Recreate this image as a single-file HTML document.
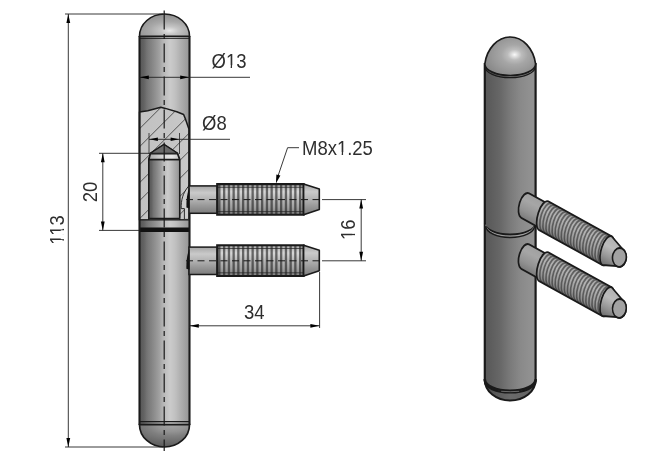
<!DOCTYPE html>
<html><head><meta charset="utf-8"><title>Hinge drawing</title>
<style>html,body{margin:0;padding:0;background:#fff;}svg{display:block;filter:grayscale(1)}</style></head>
<body><svg width="660" height="460" viewBox="0 0 660 460">
<rect width="660" height="460" fill="#fff"/>
<defs>
<linearGradient id="gb" x1="0" x2="1" y1="0" y2="0">
<stop offset="0" stop-color="#525252"/><stop offset="0.03" stop-color="#5a5a5a"/><stop offset="0.09" stop-color="#636364"/><stop offset="0.15" stop-color="#747476"/><stop offset="0.27" stop-color="#89898b"/><stop offset="0.39" stop-color="#9f9fa2"/><stop offset="0.45" stop-color="#b0b0b4"/><stop offset="0.53" stop-color="#c0c0c4"/><stop offset="0.61" stop-color="#cbcbcf"/><stop offset="0.71" stop-color="#c1c1c5"/><stop offset="0.83" stop-color="#aeaeb3"/><stop offset="0.95" stop-color="#9c9ca1"/><stop offset="1" stop-color="#96969a"/></linearGradient>
<linearGradient id="gs" x1="0" x2="0" y1="0" y2="1">
<stop offset="0" stop-color="#a6a6aa"/><stop offset="0.25" stop-color="#cacace"/><stop offset="0.5" stop-color="#b2b2b6"/><stop offset="0.75" stop-color="#96969a"/><stop offset="1" stop-color="#7c7c80"/></linearGradient>
<linearGradient id="gt" x1="0" x2="0" y1="0" y2="1">
<stop offset="0" stop-color="#a8a8a8"/><stop offset="0.25" stop-color="#d6d6d6"/><stop offset="0.5" stop-color="#b8b8b8"/><stop offset="0.75" stop-color="#a0a0a0"/><stop offset="1" stop-color="#808080"/></linearGradient>
<radialGradient id="gd" cx="0.6" cy="0.75" r="0.9">
<stop offset="0" stop-color="#e8e8ec"/><stop offset="0.2" stop-color="#c4c4c8"/><stop offset="0.45" stop-color="#a8a8ac"/><stop offset="0.7" stop-color="#96969a"/><stop offset="1" stop-color="#8a8a8e"/></radialGradient>
<linearGradient id="gh" x1="0" x2="1" y1="0" y2="0">
<stop offset="0" stop-color="#c2c2c5"/><stop offset="0.6" stop-color="#c5c5c8"/><stop offset="1" stop-color="#c8c8cb"/></linearGradient>
<linearGradient id="gp" x1="0" x2="1" y1="0" y2="0">
<stop offset="0" stop-color="#8a8a8a"/><stop offset="0.3" stop-color="#b0b0b0"/><stop offset="0.7" stop-color="#c8c8c8"/><stop offset="1" stop-color="#b8b8b8"/></linearGradient>
<radialGradient id="gbd" cx="0.65" cy="0" r="1">
<stop offset="0" stop-color="#a6a6aa"/><stop offset="0.3" stop-color="#949498"/><stop offset="0.5" stop-color="#808084"/><stop offset="0.8" stop-color="#6a6a6c"/><stop offset="1" stop-color="#5c5c5e"/></radialGradient>
<linearGradient id="gch" x1="0" x2="1" y1="0" y2="0">
<stop offset="0" stop-color="#a8a8a8"/><stop offset="0.5" stop-color="#dcdcdc"/><stop offset="0.75" stop-color="#e6e6e6"/><stop offset="1" stop-color="#c4c4c4"/></linearGradient>
</defs>
<rect x="139.5" y="37" width="50.0" height="387" fill="url(#gb)"/>
<path d="M139.5 36.2 A25.0 22.2 0 0 1 189.5 36.2 Z" fill="url(#gd)" stroke="#1a1a1a" stroke-width="1.6"/>
<line x1="139.5" y1="38.3" x2="189.5" y2="38.3" stroke="#1a1a1a" stroke-width="1"/>
<path d="M139.5 424.7 A25.0 22.3 0 0 0 189.5 424.7 Z" fill="url(#gbd)" stroke="#1a1a1a" stroke-width="1.7"/>
<line x1="139.5" y1="421.6" x2="189.5" y2="421.6" stroke="#1a1a1a" stroke-width="1.3"/>
<clipPath id="cutclip"><path d="M139.5 112 L147.8 110.7 L160.8 107.2 L165.4 108.4 L176.8 111.7 L183.6 114.5 L185.6 119.4 L189.0 129.3 L189.0 220 L139.5 220 Z"/></clipPath>
<path d="M139.5 112 L147.8 110.7 L160.8 107.2 L165.4 108.4 L176.8 111.7 L183.6 114.5 L185.6 119.4 L189.0 129.3 L189.0 220 L139.5 220 Z" fill="url(#gh)"/>
<g clip-path="url(#cutclip)" stroke="#4a4a4a" stroke-width="0.95">
<line x1="132.3" y1="100" x2="2.3" y2="230"/>
<line x1="150.3" y1="100" x2="20.3" y2="230"/>
<line x1="168.3" y1="100" x2="38.3" y2="230"/>
<line x1="186.3" y1="100" x2="56.3" y2="230"/>
<line x1="204.3" y1="100" x2="74.3" y2="230"/>
<line x1="222.3" y1="100" x2="92.3" y2="230"/>
<line x1="240.3" y1="100" x2="110.3" y2="230"/>
<line x1="258.3" y1="100" x2="128.3" y2="230"/>
<line x1="276.3" y1="100" x2="146.3" y2="230"/>
<line x1="294.3" y1="100" x2="164.3" y2="230"/>
<line x1="312.3" y1="100" x2="182.3" y2="230"/>
<line x1="330.3" y1="100" x2="200.3" y2="230"/>
</g>
<path d="M139.5 112 L147.8 110.7 L160.8 107.2 L165.4 108.4 L176.8 111.7 L183.6 114.5 L185.6 119.4 L189.0 129.3 L189.0 220 L139.5 220 Z" fill="none" stroke="#1a1a1a" stroke-width="1.5" stroke-linejoin="round"/>
<path d="M148.7 220 L148.7 159 L150.3 153.2 L164.0 144.3 L177.6 153.2 L179.8 159 L179.8 220 Z" fill="#b4b4b4" stroke="#1a1a1a" stroke-width="1.3" stroke-linejoin="round"/>
<path d="M150.3 153.3 L164.0 144.4 L177.6 153.3 Z" fill="#6a6a6a" stroke="#1a1a1a" stroke-width="1.2" stroke-linejoin="round"/>
<rect x="148.9" y="159.5" width="30.7" height="58.9" rx="1" fill="url(#gb)" stroke="#1a1a1a" stroke-width="1.3"/>
<path d="M150.5 153.8 L177.4 153.8 L179.5 159.5 L149 159.5 Z" fill="url(#gch)" stroke="#1a1a1a" stroke-width="1.3" stroke-linejoin="round"/>
<rect x="139.5" y="220" width="50.0" height="8" fill="url(#gb)"/>
<line x1="139.5" y1="220" x2="189.5" y2="220" stroke="#1a1a1a" stroke-width="1"/>
<rect x="139.5" y="227.5" width="50.0" height="4.5" fill="#111"/>
<line x1="139.5" y1="36" x2="139.5" y2="425" stroke="#1a1a1a" stroke-width="2.1"/>
<line x1="189.5" y1="36" x2="189.5" y2="425" stroke="#1a1a1a" stroke-width="2.1"/>
<rect x="189" y="185.9" width="28.5" height="27.4" fill="url(#gs)" stroke="#1a1a1a" stroke-width="1.5"/>
<path d="M217.2 184.1 L303.6 184.1 L303.6 214.75 L217.2 214.75 Z" fill="url(#gt)"/>
<rect x="218.2" y="184.1" width="2.3" height="30.650000000000006" fill="#1c1c1c" opacity="0.6"/>
<rect x="223.0" y="184.1" width="2.3" height="30.650000000000006" fill="#1c1c1c" opacity="0.6"/>
<rect x="227.8" y="184.1" width="2.3" height="30.650000000000006" fill="#1c1c1c" opacity="0.6"/>
<rect x="232.5" y="184.1" width="2.3" height="30.650000000000006" fill="#1c1c1c" opacity="0.6"/>
<rect x="237.2" y="184.1" width="2.3" height="30.650000000000006" fill="#1c1c1c" opacity="0.6"/>
<rect x="242.0" y="184.1" width="2.3" height="30.650000000000006" fill="#1c1c1c" opacity="0.6"/>
<rect x="246.8" y="184.1" width="2.3" height="30.650000000000006" fill="#1c1c1c" opacity="0.6"/>
<rect x="251.5" y="184.1" width="2.3" height="30.650000000000006" fill="#1c1c1c" opacity="0.6"/>
<rect x="256.2" y="184.1" width="2.3" height="30.650000000000006" fill="#1c1c1c" opacity="0.6"/>
<rect x="261.0" y="184.1" width="2.3" height="30.650000000000006" fill="#1c1c1c" opacity="0.6"/>
<rect x="265.8" y="184.1" width="2.3" height="30.650000000000006" fill="#1c1c1c" opacity="0.6"/>
<rect x="270.5" y="184.1" width="2.3" height="30.650000000000006" fill="#1c1c1c" opacity="0.6"/>
<rect x="275.2" y="184.1" width="2.3" height="30.650000000000006" fill="#1c1c1c" opacity="0.6"/>
<rect x="280.0" y="184.1" width="2.3" height="30.650000000000006" fill="#1c1c1c" opacity="0.6"/>
<rect x="284.8" y="184.1" width="2.3" height="30.650000000000006" fill="#1c1c1c" opacity="0.6"/>
<rect x="289.5" y="184.1" width="2.3" height="30.650000000000006" fill="#1c1c1c" opacity="0.6"/>
<rect x="294.2" y="184.1" width="2.3" height="30.650000000000006" fill="#1c1c1c" opacity="0.6"/>
<rect x="299.0" y="184.1" width="2.3" height="30.650000000000006" fill="#1c1c1c" opacity="0.6"/>
<line x1="217.2" y1="187.29999999999998" x2="303.6" y2="187.29999999999998" stroke="#222" stroke-width="1" opacity="0.7"/>
<line x1="217.2" y1="211.6" x2="303.6" y2="211.6" stroke="#222" stroke-width="1" opacity="0.7"/>
<path d="M217.2 184.1 L303.6 184.1 L303.6 214.75 L217.2 214.75 Z" fill="none" stroke="#1a1a1a" stroke-width="2.1"/>
<path d="M303.6 184.1 L319.3 189.1 L319.3 209.6 L303.6 214.75 Z" fill="url(#gs)" stroke="#1a1a1a" stroke-width="1.6" stroke-linejoin="round"/>
<path d="M188.6 186.1 C184.5 191.1 181.6 196.6 181.2 205.6 L181.2 208.6 L184.4 208.6 L184.4 219.4 L188.6 219.4 Z" fill="#cdcdcd" stroke="#1a1a1a" stroke-width="0.9" stroke-linejoin="round"/>
<path d="M189.5 187.6 C187.2 192.6 186.2 199.6 186.4 207.6 L189.5 208.6 Z" fill="#111"/>
<line x1="186" y1="199.6" x2="322" y2="199.6" stroke="#1a1a1a" stroke-width="1" stroke-dasharray="7 4.5"/>
<rect x="189" y="247.10000000000002" width="28.5" height="27.4" fill="url(#gs)" stroke="#1a1a1a" stroke-width="1.5"/>
<path d="M217.2 245.3 L303.6 245.3 L303.6 275.95 L217.2 275.95 Z" fill="url(#gt)"/>
<rect x="218.2" y="245.3" width="2.3" height="30.649999999999977" fill="#1c1c1c" opacity="0.6"/>
<rect x="223.0" y="245.3" width="2.3" height="30.649999999999977" fill="#1c1c1c" opacity="0.6"/>
<rect x="227.8" y="245.3" width="2.3" height="30.649999999999977" fill="#1c1c1c" opacity="0.6"/>
<rect x="232.5" y="245.3" width="2.3" height="30.649999999999977" fill="#1c1c1c" opacity="0.6"/>
<rect x="237.2" y="245.3" width="2.3" height="30.649999999999977" fill="#1c1c1c" opacity="0.6"/>
<rect x="242.0" y="245.3" width="2.3" height="30.649999999999977" fill="#1c1c1c" opacity="0.6"/>
<rect x="246.8" y="245.3" width="2.3" height="30.649999999999977" fill="#1c1c1c" opacity="0.6"/>
<rect x="251.5" y="245.3" width="2.3" height="30.649999999999977" fill="#1c1c1c" opacity="0.6"/>
<rect x="256.2" y="245.3" width="2.3" height="30.649999999999977" fill="#1c1c1c" opacity="0.6"/>
<rect x="261.0" y="245.3" width="2.3" height="30.649999999999977" fill="#1c1c1c" opacity="0.6"/>
<rect x="265.8" y="245.3" width="2.3" height="30.649999999999977" fill="#1c1c1c" opacity="0.6"/>
<rect x="270.5" y="245.3" width="2.3" height="30.649999999999977" fill="#1c1c1c" opacity="0.6"/>
<rect x="275.2" y="245.3" width="2.3" height="30.649999999999977" fill="#1c1c1c" opacity="0.6"/>
<rect x="280.0" y="245.3" width="2.3" height="30.649999999999977" fill="#1c1c1c" opacity="0.6"/>
<rect x="284.8" y="245.3" width="2.3" height="30.649999999999977" fill="#1c1c1c" opacity="0.6"/>
<rect x="289.5" y="245.3" width="2.3" height="30.649999999999977" fill="#1c1c1c" opacity="0.6"/>
<rect x="294.2" y="245.3" width="2.3" height="30.649999999999977" fill="#1c1c1c" opacity="0.6"/>
<rect x="299.0" y="245.3" width="2.3" height="30.649999999999977" fill="#1c1c1c" opacity="0.6"/>
<line x1="217.2" y1="248.5" x2="303.6" y2="248.5" stroke="#222" stroke-width="1" opacity="0.7"/>
<line x1="217.2" y1="272.8" x2="303.6" y2="272.8" stroke="#222" stroke-width="1" opacity="0.7"/>
<path d="M217.2 245.3 L303.6 245.3 L303.6 275.95 L217.2 275.95 Z" fill="none" stroke="#1a1a1a" stroke-width="2.1"/>
<path d="M303.6 245.3 L319.3 250.3 L319.3 270.8 L303.6 275.95 Z" fill="url(#gs)" stroke="#1a1a1a" stroke-width="1.6" stroke-linejoin="round"/>
<path d="M189.5 248.8 C187.2 253.8 186.2 260.8 186.4 268.8 L189.5 269.8 Z" fill="#111"/>
<line x1="186" y1="260.8" x2="322" y2="260.8" stroke="#1a1a1a" stroke-width="1" stroke-dasharray="7 4.5"/>
<line x1="164.2" y1="10.4" x2="164.2" y2="451" stroke="#1a1a1a" stroke-width="1.2" stroke-dasharray="19 4.5 5 4.5" stroke-dashoffset="0"/>
<line x1="65" y1="14" x2="163" y2="14" stroke="#222" stroke-width="0.9"/>
<line x1="65" y1="447" x2="163" y2="447" stroke="#222" stroke-width="0.9"/>
<line x1="68.3" y1="14" x2="68.3" y2="447" stroke="#222" stroke-width="0.9"/>
<path d="M68.3 14.0 L70.2 23.0 L66.4 23.0 Z" fill="#000"/>
<path d="M68.3 447.0 L66.4 438.0 L70.2 438.0 Z" fill="#000"/>
<g transform="translate(63.5 229.9) rotate(-90) scale(0.915 1)">
<text transform="scale(0.25)" font-family="Liberation Sans, sans-serif" font-size="80.8" fill="#2e2e2e" text-anchor="middle">113</text>
<rect x="-16.46" y="-2.76" width="4.83" height="3.95" fill="#fff"/>
<rect x="-10.13" y="-2.76" width="4.63" height="3.95" fill="#fff"/>
<rect x="-5.22" y="-2.76" width="4.83" height="3.95" fill="#fff"/>
<rect x="1.10" y="-2.76" width="4.63" height="3.95" fill="#fff"/>
</g>
<line x1="99" y1="153.3" x2="150" y2="153.3" stroke="#222" stroke-width="0.9"/>
<line x1="99" y1="230.4" x2="139" y2="230.4" stroke="#222" stroke-width="0.9"/>
<line x1="102.8" y1="153.3" x2="102.8" y2="230.4" stroke="#222" stroke-width="0.9"/>
<path d="M102.8 153.3 L104.7 162.3 L100.9 162.3 Z" fill="#000"/>
<path d="M102.8 230.4 L100.9 221.4 L104.7 221.4 Z" fill="#000"/>
<g transform="translate(97.3 192) rotate(-90) scale(0.915 1)">
<text transform="scale(0.25)" font-family="Liberation Sans, sans-serif" font-size="80.8" fill="#2e2e2e" text-anchor="middle">20</text>
</g>
<line x1="139.5" y1="77.3" x2="250" y2="77.3" stroke="#222" stroke-width="0.9"/>
<path d="M139.8 77.3 L148.8 75.4 L148.8 79.2 Z" fill="#000"/>
<path d="M189.2 77.3 L180.2 79.2 L180.2 75.4 Z" fill="#000"/>
<g transform="translate(211.5 68) scale(0.915 1)">
<text transform="scale(0.25)" font-family="Liberation Sans, sans-serif" font-size="80.8" fill="#2e2e2e" text-anchor="start">Ø13</text>
<rect x="16.11" y="-2.76" width="4.83" height="3.95" fill="#fff"/>
<rect x="22.43" y="-2.76" width="4.63" height="3.95" fill="#fff"/>
</g>
<line x1="149" y1="139.3" x2="230" y2="139.3" stroke="#222" stroke-width="0.9"/>
<path d="M149.4 139.3 L157.9 137.6 L157.9 141.0 Z" fill="#000"/>
<path d="M179.1 139.3 L170.6 141.0 L170.6 137.6 Z" fill="#000"/>
<line x1="149" y1="133" x2="149" y2="154" stroke="#222" stroke-width="0.8"/>
<line x1="179.5" y1="133" x2="179.5" y2="154" stroke="#222" stroke-width="0.8"/>
<g transform="translate(202 129.5) scale(0.915 1)">
<text transform="scale(0.25)" font-family="Liberation Sans, sans-serif" font-size="80.8" fill="#2e2e2e" text-anchor="start">Ø8</text>
</g>
<line x1="287.6" y1="147.7" x2="299" y2="147.7" stroke="#222" stroke-width="0.9"/>
<line x1="287.6" y1="147.7" x2="278" y2="176" stroke="#222" stroke-width="0.9"/>
<path d="M275.9 183.6 L276.4 174.4 L280.4 175.5 Z" fill="#000"/>
<g transform="translate(302 155) scale(0.915 1)">
<text transform="scale(0.25)" font-family="Liberation Sans, sans-serif" font-size="80.8" fill="#2e2e2e" text-anchor="start">M8x1.25</text>
<rect x="38.56" y="-2.76" width="4.83" height="3.95" fill="#fff"/>
<rect x="44.88" y="-2.76" width="4.63" height="3.95" fill="#fff"/>
</g>
<line x1="322" y1="199.6" x2="366" y2="199.6" stroke="#222" stroke-width="0.9"/>
<line x1="322" y1="260.8" x2="366" y2="260.8" stroke="#222" stroke-width="0.9"/>
<line x1="361.2" y1="199.6" x2="361.2" y2="260.8" stroke="#222" stroke-width="0.9"/>
<path d="M361.2 199.6 L363.1 208.6 L359.3 208.6 Z" fill="#000"/>
<path d="M361.2 260.8 L359.3 251.8 L363.1 251.8 Z" fill="#000"/>
<g transform="translate(355.2 229.7) rotate(-90) scale(0.915 1)">
<text transform="scale(0.25)" font-family="Liberation Sans, sans-serif" font-size="80.8" fill="#2e2e2e" text-anchor="middle">16</text>
<rect x="-10.84" y="-2.76" width="4.83" height="3.95" fill="#fff"/>
<rect x="-4.52" y="-2.76" width="4.63" height="3.95" fill="#fff"/>
</g>
<line x1="189.6" y1="274" x2="189.6" y2="328" stroke="#222" stroke-width="0.9"/>
<line x1="319.6" y1="272" x2="319.6" y2="328" stroke="#222" stroke-width="0.9"/>
<line x1="189.6" y1="325.8" x2="319.6" y2="325.8" stroke="#222" stroke-width="0.9"/>
<path d="M189.8 325.8 L198.8 323.9 L198.8 327.7 Z" fill="#000"/>
<path d="M319.4 325.8 L310.4 327.7 L310.4 323.9 Z" fill="#000"/>
<g transform="translate(254.3 319.2) scale(0.915 1)">
<text transform="scale(0.25)" font-family="Liberation Sans, sans-serif" font-size="80.8" fill="#2e2e2e" text-anchor="middle">34</text>
</g>
<defs>
<linearGradient id="g3" x1="0" x2="1" y1="0" y2="0">
<stop offset="0" stop-color="#585858"/><stop offset="0.1" stop-color="#5c5c5c"/><stop offset="0.3" stop-color="#676768"/><stop offset="0.5" stop-color="#7a7a7b"/><stop offset="0.7" stop-color="#89898b"/><stop offset="0.9" stop-color="#919195"/><stop offset="1" stop-color="#939397"/></linearGradient>
<radialGradient id="g3d" cx="0.587" cy="0.46" r="0.62">
<stop offset="0" stop-color="#fafafe"/><stop offset="0.08" stop-color="#e2e2e6"/><stop offset="0.22" stop-color="#bcbcc0"/><stop offset="0.42" stop-color="#a6a6aa"/><stop offset="0.7" stop-color="#98989c"/><stop offset="1" stop-color="#88888c"/></radialGradient>
<linearGradient id="g3b" x1="0" x2="1" y1="0" y2="0">
<stop offset="0" stop-color="#4c4c4c"/><stop offset="0.5" stop-color="#6a6a6a"/><stop offset="1" stop-color="#626262"/></linearGradient>
<linearGradient id="g3s" x1="0" x2="0" y1="0" y2="1">
<stop offset="0" stop-color="#a0a0a4"/><stop offset="0.3" stop-color="#a6a6aa"/><stop offset="0.7" stop-color="#929296"/><stop offset="1" stop-color="#7a7a7e"/></linearGradient>
<linearGradient id="g3c" x1="0" x2="0" y1="0" y2="1">
<stop offset="0" stop-color="#b0b0b0"/><stop offset="0.35" stop-color="#bcbcbc"/><stop offset="0.7" stop-color="#949494"/><stop offset="1" stop-color="#6c6c6c"/></linearGradient>
<linearGradient id="g3t" x1="0" x2="0" y1="0" y2="1">
<stop offset="0" stop-color="#a4a4a8"/><stop offset="0.3" stop-color="#b4b4b8"/><stop offset="0.7" stop-color="#9c9ca0"/><stop offset="1" stop-color="#7c7c80"/></linearGradient>
</defs>
<path d="M484.8 380 A25.400000000000006 20.6 0 0 0 535.6 380 Z" fill="url(#g3b)" stroke="#1a1a1a" stroke-width="2"/>
<path d="M484.8 64 L484.8 381 A25.400000000000006 11.5 0 0 0 535.6 381 L535.6 64 Z" fill="url(#g3)" stroke="#1a1a1a" stroke-width="2.2"/>
<path d="M484.8 379.3 A25.400000000000006 11.5 0 0 0 535.6 379.3" fill="none" stroke="#1a1a1a" stroke-width="2.6"/>
<path d="M501.20000000000005 391.3 Q510.20000000000005 392.1 519.2 391.3" fill="none" stroke="#8a8a8a" stroke-width="0.7"/>
<path d="M484.8 223.0 A25.400000000000006 11.5 0 0 0 535.6 223.0" fill="none" stroke="#1a1a1a" stroke-width="1.8"/>
<path d="M485.8 224.7 A24.400000000000006 11.5 0 0 0 534.6 224.7" fill="none" stroke="#a8a8a8" stroke-width="0.8"/>
<path d="M485.8 226 A24.400000000000006 11.5 0 0 0 534.6 226" fill="none" stroke="#1a1a1a" stroke-width="1.4"/>
<path d="M484.8 64 A25.780000000000005 32.6 0 0 1 535.6 64 A25.400000000000006 11.5 0 0 1 484.8 64 Z" fill="url(#g3d)" stroke="#1a1a1a" stroke-width="1.7"/>
<path d="M484.8 66.2 A25.400000000000006 11.5 0 0 0 535.6 66.2" fill="none" stroke="#1a1a1a" stroke-width="1.2"/>
<g transform="translate(523.0 204.4) rotate(28.8) skewX(11)" stroke-linejoin="round">
<path d="M2.5 -12.6 L23.7 -12.6 L23.7 12.6 L2.5 12.6 A6.292 12.6 0 0 1 2.5 -12.6 Z" fill="url(#g3s)" stroke="#1a1a1a" stroke-width="1.8"/>
<path d="M23.7 -14.8 L96 -14.8 A6.216 14.8 0 0 1 96 14.8 L23.7 14.8 A6.216 14.8 0 0 1 23.7 -14.8 Z" fill="url(#g3t)"/>
<path d="M27.2 14.200000000000001 A6.216 14.200000000000001 0 0 1 27.2 -14.200000000000001" fill="none" stroke="#2a2a2c" stroke-width="1.7" opacity="0.58"/>
<path d="M30.7 14.200000000000001 A6.216 14.200000000000001 0 0 1 30.7 -14.200000000000001" fill="none" stroke="#2a2a2c" stroke-width="1.7" opacity="0.58"/>
<path d="M34.2 14.200000000000001 A6.216 14.200000000000001 0 0 1 34.2 -14.200000000000001" fill="none" stroke="#2a2a2c" stroke-width="1.7" opacity="0.58"/>
<path d="M37.7 14.200000000000001 A6.216 14.200000000000001 0 0 1 37.7 -14.200000000000001" fill="none" stroke="#2a2a2c" stroke-width="1.7" opacity="0.58"/>
<path d="M41.2 14.200000000000001 A6.216 14.200000000000001 0 0 1 41.2 -14.200000000000001" fill="none" stroke="#2a2a2c" stroke-width="1.7" opacity="0.58"/>
<path d="M44.7 14.200000000000001 A6.216 14.200000000000001 0 0 1 44.7 -14.200000000000001" fill="none" stroke="#2a2a2c" stroke-width="1.7" opacity="0.58"/>
<path d="M48.2 14.200000000000001 A6.216 14.200000000000001 0 0 1 48.2 -14.200000000000001" fill="none" stroke="#2a2a2c" stroke-width="1.7" opacity="0.58"/>
<path d="M51.7 14.200000000000001 A6.216 14.200000000000001 0 0 1 51.7 -14.200000000000001" fill="none" stroke="#2a2a2c" stroke-width="1.7" opacity="0.58"/>
<path d="M55.2 14.200000000000001 A6.216 14.200000000000001 0 0 1 55.2 -14.200000000000001" fill="none" stroke="#2a2a2c" stroke-width="1.7" opacity="0.58"/>
<path d="M58.7 14.200000000000001 A6.216 14.200000000000001 0 0 1 58.7 -14.200000000000001" fill="none" stroke="#2a2a2c" stroke-width="1.7" opacity="0.58"/>
<path d="M62.2 14.200000000000001 A6.216 14.200000000000001 0 0 1 62.2 -14.200000000000001" fill="none" stroke="#2a2a2c" stroke-width="1.7" opacity="0.58"/>
<path d="M65.7 14.200000000000001 A6.216 14.200000000000001 0 0 1 65.7 -14.200000000000001" fill="none" stroke="#2a2a2c" stroke-width="1.7" opacity="0.58"/>
<path d="M69.2 14.200000000000001 A6.216 14.200000000000001 0 0 1 69.2 -14.200000000000001" fill="none" stroke="#2a2a2c" stroke-width="1.7" opacity="0.58"/>
<path d="M72.7 14.200000000000001 A6.216 14.200000000000001 0 0 1 72.7 -14.200000000000001" fill="none" stroke="#2a2a2c" stroke-width="1.7" opacity="0.58"/>
<path d="M76.2 14.200000000000001 A6.216 14.200000000000001 0 0 1 76.2 -14.200000000000001" fill="none" stroke="#2a2a2c" stroke-width="1.7" opacity="0.58"/>
<path d="M79.7 14.200000000000001 A6.216 14.200000000000001 0 0 1 79.7 -14.200000000000001" fill="none" stroke="#2a2a2c" stroke-width="1.7" opacity="0.58"/>
<path d="M83.2 14.200000000000001 A6.216 14.200000000000001 0 0 1 83.2 -14.200000000000001" fill="none" stroke="#2a2a2c" stroke-width="1.7" opacity="0.58"/>
<path d="M86.7 14.200000000000001 A6.216 14.200000000000001 0 0 1 86.7 -14.200000000000001" fill="none" stroke="#2a2a2c" stroke-width="1.7" opacity="0.58"/>
<path d="M90.2 14.200000000000001 A6.216 14.200000000000001 0 0 1 90.2 -14.200000000000001" fill="none" stroke="#2a2a2c" stroke-width="1.7" opacity="0.58"/>
<path d="M93.7 14.200000000000001 A6.216 14.200000000000001 0 0 1 93.7 -14.200000000000001" fill="none" stroke="#2a2a2c" stroke-width="1.7" opacity="0.58"/>
<path d="M23.7 -14.8 L96 -14.8 A6.216 14.8 0 0 1 96 14.8 L23.7 14.8 A6.216 14.8 0 0 1 23.7 -14.8 Z" fill="none" stroke="#1a1a1a" stroke-width="1.8"/>
<path d="M96 -14.8 L110 -9.0 A7.2 9.0 0 0 1 110 9.0 L96 14.8 A6.216 14.8 0 0 1 96 -14.8 Z" fill="url(#g3c)" stroke="#1a1a1a" stroke-width="1.8"/>
<ellipse cx="110" cy="0" rx="7.2" ry="9.0" fill="#a2a2a2" stroke="#1a1a1a" stroke-width="1.7"/>
</g>
<g transform="translate(523.0 255.4) rotate(28.8) skewX(11)" stroke-linejoin="round">
<path d="M2.5 -12.6 L23.7 -12.6 L23.7 12.6 L2.5 12.6 A6.292 12.6 0 0 1 2.5 -12.6 Z" fill="url(#g3s)" stroke="#1a1a1a" stroke-width="1.8"/>
<path d="M23.7 -14.8 L96 -14.8 A6.216 14.8 0 0 1 96 14.8 L23.7 14.8 A6.216 14.8 0 0 1 23.7 -14.8 Z" fill="url(#g3t)"/>
<path d="M27.2 14.200000000000001 A6.216 14.200000000000001 0 0 1 27.2 -14.200000000000001" fill="none" stroke="#2a2a2c" stroke-width="1.7" opacity="0.58"/>
<path d="M30.7 14.200000000000001 A6.216 14.200000000000001 0 0 1 30.7 -14.200000000000001" fill="none" stroke="#2a2a2c" stroke-width="1.7" opacity="0.58"/>
<path d="M34.2 14.200000000000001 A6.216 14.200000000000001 0 0 1 34.2 -14.200000000000001" fill="none" stroke="#2a2a2c" stroke-width="1.7" opacity="0.58"/>
<path d="M37.7 14.200000000000001 A6.216 14.200000000000001 0 0 1 37.7 -14.200000000000001" fill="none" stroke="#2a2a2c" stroke-width="1.7" opacity="0.58"/>
<path d="M41.2 14.200000000000001 A6.216 14.200000000000001 0 0 1 41.2 -14.200000000000001" fill="none" stroke="#2a2a2c" stroke-width="1.7" opacity="0.58"/>
<path d="M44.7 14.200000000000001 A6.216 14.200000000000001 0 0 1 44.7 -14.200000000000001" fill="none" stroke="#2a2a2c" stroke-width="1.7" opacity="0.58"/>
<path d="M48.2 14.200000000000001 A6.216 14.200000000000001 0 0 1 48.2 -14.200000000000001" fill="none" stroke="#2a2a2c" stroke-width="1.7" opacity="0.58"/>
<path d="M51.7 14.200000000000001 A6.216 14.200000000000001 0 0 1 51.7 -14.200000000000001" fill="none" stroke="#2a2a2c" stroke-width="1.7" opacity="0.58"/>
<path d="M55.2 14.200000000000001 A6.216 14.200000000000001 0 0 1 55.2 -14.200000000000001" fill="none" stroke="#2a2a2c" stroke-width="1.7" opacity="0.58"/>
<path d="M58.7 14.200000000000001 A6.216 14.200000000000001 0 0 1 58.7 -14.200000000000001" fill="none" stroke="#2a2a2c" stroke-width="1.7" opacity="0.58"/>
<path d="M62.2 14.200000000000001 A6.216 14.200000000000001 0 0 1 62.2 -14.200000000000001" fill="none" stroke="#2a2a2c" stroke-width="1.7" opacity="0.58"/>
<path d="M65.7 14.200000000000001 A6.216 14.200000000000001 0 0 1 65.7 -14.200000000000001" fill="none" stroke="#2a2a2c" stroke-width="1.7" opacity="0.58"/>
<path d="M69.2 14.200000000000001 A6.216 14.200000000000001 0 0 1 69.2 -14.200000000000001" fill="none" stroke="#2a2a2c" stroke-width="1.7" opacity="0.58"/>
<path d="M72.7 14.200000000000001 A6.216 14.200000000000001 0 0 1 72.7 -14.200000000000001" fill="none" stroke="#2a2a2c" stroke-width="1.7" opacity="0.58"/>
<path d="M76.2 14.200000000000001 A6.216 14.200000000000001 0 0 1 76.2 -14.200000000000001" fill="none" stroke="#2a2a2c" stroke-width="1.7" opacity="0.58"/>
<path d="M79.7 14.200000000000001 A6.216 14.200000000000001 0 0 1 79.7 -14.200000000000001" fill="none" stroke="#2a2a2c" stroke-width="1.7" opacity="0.58"/>
<path d="M83.2 14.200000000000001 A6.216 14.200000000000001 0 0 1 83.2 -14.200000000000001" fill="none" stroke="#2a2a2c" stroke-width="1.7" opacity="0.58"/>
<path d="M86.7 14.200000000000001 A6.216 14.200000000000001 0 0 1 86.7 -14.200000000000001" fill="none" stroke="#2a2a2c" stroke-width="1.7" opacity="0.58"/>
<path d="M90.2 14.200000000000001 A6.216 14.200000000000001 0 0 1 90.2 -14.200000000000001" fill="none" stroke="#2a2a2c" stroke-width="1.7" opacity="0.58"/>
<path d="M93.7 14.200000000000001 A6.216 14.200000000000001 0 0 1 93.7 -14.200000000000001" fill="none" stroke="#2a2a2c" stroke-width="1.7" opacity="0.58"/>
<path d="M23.7 -14.8 L96 -14.8 A6.216 14.8 0 0 1 96 14.8 L23.7 14.8 A6.216 14.8 0 0 1 23.7 -14.8 Z" fill="none" stroke="#1a1a1a" stroke-width="1.8"/>
<path d="M96 -14.8 L110 -9.0 A7.2 9.0 0 0 1 110 9.0 L96 14.8 A6.216 14.8 0 0 1 96 -14.8 Z" fill="url(#g3c)" stroke="#1a1a1a" stroke-width="1.8"/>
<ellipse cx="110" cy="0" rx="7.2" ry="9.0" fill="#a2a2a2" stroke="#1a1a1a" stroke-width="1.7"/>
</g>
</svg></body></html>
